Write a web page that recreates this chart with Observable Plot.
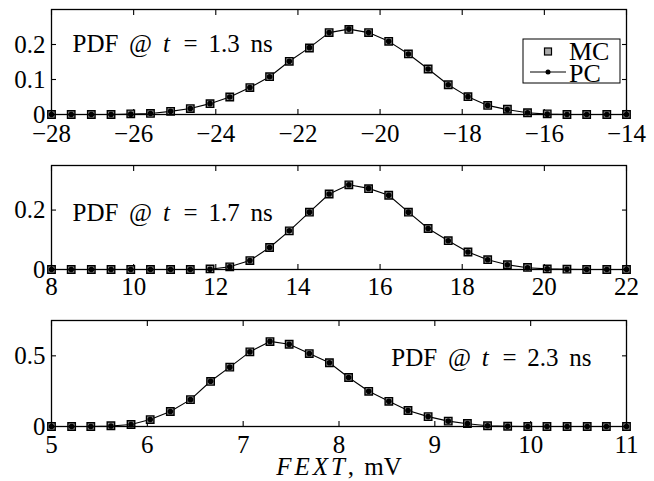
<!DOCTYPE html>
<html><head><meta charset="utf-8">
<script src="https://cdn.jsdelivr.net/npm/d3@7"></script>
<script src="https://cdn.jsdelivr.net/npm/@observablehq/plot@0.6"></script>
<style>
body{margin:0;background:#fff;}
#chart svg{display:block;}
</style></head><body><div id="chart"></div>
<script>
// ---- data ----
const x1 = [-28,-27.52,-27.03,-26.55,-26.07,-25.59,-25.10,-24.62,-24.14,-23.66,-23.17,-22.69,-22.21,-21.72,-21.24,-20.76,-20.28,-19.79,-19.31,-18.83,-18.34,-17.86,-17.38,-16.90,-16.41,-15.93,-15.45,-14.97,-14.48,-14];
const mc1 = [0,0,0,0,0.002,0.003,0.009,0.017,0.031,0.050,0.077,0.108,0.152,0.190,0.234,0.243,0.234,0.209,0.173,0.130,0.085,0.051,0.026,0.015,0.005,0.002,0,0,0,0];
const pc1 = [0,0,0,0,0.001,0.003,0.009,0.017,0.031,0.050,0.077,0.108,0.152,0.191,0.234,0.244,0.234,0.209,0.173,0.130,0.085,0.051,0.026,0.014,0.005,0.001,0,0,0,0];

const x2 = [8,8.48,8.97,9.45,9.93,10.41,10.90,11.38,11.86,12.34,12.83,13.31,13.79,14.28,14.76,15.24,15.72,16.21,16.69,17.17,17.66,18.14,18.62,19.10,19.59,20.07,20.55,21.03,21.52,22];
const mc2 = [0,0,0,0,0,0,0,0,0.002,0.009,0.030,0.074,0.130,0.193,0.254,0.285,0.272,0.250,0.193,0.138,0.097,0.059,0.033,0.016,0.007,0.002,0.001,0,0,0];
const pc2 = [0,0,0,0,0,0,0,0,0.001,0.009,0.030,0.074,0.130,0.193,0.254,0.285,0.273,0.250,0.193,0.138,0.097,0.059,0.033,0.016,0.006,0.002,0.001,0,0,0];

const x3 = [5,5.21,5.41,5.62,5.83,6.03,6.24,6.45,6.66,6.86,7.07,7.28,7.48,7.69,7.90,8.10,8.31,8.52,8.72,8.93,9.14,9.34,9.55,9.76,9.97,10.17,10.38,10.59,10.79,11];
const mc3 = [0,0,0,0.005,0.014,0.049,0.106,0.190,0.319,0.420,0.528,0.601,0.582,0.516,0.451,0.347,0.249,0.178,0.113,0.070,0.038,0.021,0.005,0.002,0,0,0,0,0,0];
const pc3 = [0,0,0,0.004,0.014,0.049,0.106,0.190,0.320,0.420,0.528,0.602,0.582,0.516,0.451,0.347,0.249,0.178,0.113,0.070,0.038,0.020,0.005,0.002,0,0,0,0,0,0];

const xTicks1 = [-28,-26,-24,-22,-20,-18,-16,-14];
const xTicks2 = [8,10,12,14,16,18,20,22];
const xTicks3 = [5,6,7,8,9,10,11];
const yTicks1 = [0,0.1,0.2];
const yTicks2 = [0,0.2];
const yTicks3 = [0,0.5];
const notes = [["PDF @ ","t"," = 1.3 ns"],["PDF @ ","t"," = 1.7 ns"],["PDF @ ","t"," = 2.3 ns"]];
const seriesNames = ["MC","PC"];
const xLabel = ["FEXT", ", mV"];

const FONT = "'Liberation Serif', 'Times New Roman', serif";
const svgns = "http://www.w3.org/2000/svg";

function panel(o) {
  const mcData = o.x.map((v,i)=>({x:v, y:o.mc[i]}));
  const pcData = o.x.map((v,i)=>({x:v, y:o.pc[i]}));
  const noteStr = o.note.join("");
  const labelStr = o.label ? o.label.join("") : null;
  const marks = [
    Plot.axisX(o.xTicks, {anchor:"bottom", tickSize:-5, tickPadding:o.xPad, strokeWidth:1.1}),
    Plot.axisX(o.xTicks, {anchor:"top", tickSize:-5, fill:"none", strokeWidth:1.1}),
    Plot.axisY(o.yTicks, {anchor:"left", tickSize:-5, tickPadding:11, tickFormat:d=>String(d), strokeWidth:1.1}),
    Plot.axisY(o.yTicks, {anchor:"right", tickSize:-5, fill:"none", strokeWidth:1.1}),
    Plot.line(pcData, {x:"x", y:"y", stroke:"black", strokeWidth:1.1}),
    Plot.dot(mcData, {x:"x", y:"y", symbol:"square", r:4.2, fill:"#9a9a9a", stroke:"black", strokeWidth:1.4}),
    Plot.dot(pcData, {x:"x", y:"y", r:2.8, fill:"black", stroke:"none"}),
    Plot.frame({stroke:"black", strokeWidth:1.3}),
    Plot.text([noteStr], {frameAnchor:o.noteAnchor, dx:o.noteDx, dy:o.noteDy, textAnchor:o.noteAlign, lineAnchor:"middle", fontSize:25})
  ];
  if (labelStr) marks.push(Plot.text([labelStr], {frameAnchor:"bottom", dy:40, lineAnchor:"middle", fontSize:25}));
  const svg = Plot.plot({
    width: 654, height: o.height,
    marginLeft: 51, marginRight: 28, marginTop: o.marginTop, marginBottom: o.marginBottom,
    style: {fontFamily: FONT, fontSize: "25px", background: "white", color: "black"},
    x: {domain: o.xDomain, label: null},
    y: {domain: o.yDomain, label: null},
    marks
  });
  const texts = Array.from(svg.querySelectorAll("text"));
  rich(texts.find(t => t.textContent === noteStr), [[o.note[0],false],[o.note[1],true],[o.note[2],false]], 4.5);
  if (labelStr) rich(texts.find(t => t.textContent === labelStr), [[o.label[0],true],[o.label[1],false]], 4);
  return svg;
}
function rich(el, parts, wordSpacing) {
  if (!el) return;
  el.textContent = "";
  el.setAttribute("style", `white-space:pre;word-spacing:${wordSpacing}px`);
  for (const [s, it] of parts) {
    const t = document.createElementNS(svgns, "tspan");
    t.textContent = s;
    if (it) { t.setAttribute("font-style", "italic"); t.setAttribute("letter-spacing", "3"); }
    el.appendChild(t);
  }
}

const chart = document.getElementById("chart");
const s1 = panel({x:x1, mc:mc1, pc:pc1, xDomain:[-28,-14], xTicks:xTicks1, yDomain:[0,0.3], yTicks:yTicks1,
  height:155, marginTop:9, marginBottom:41, xPad:15, note:notes[0], noteAnchor:"top-left", noteDx:21, noteDy:34, noteAlign:"start"});
const s2 = panel({x:x2, mc:mc2, pc:pc2, xDomain:[8,22], xTicks:xTicks2, yDomain:[0,0.35], yTicks:yTicks2,
  height:155, marginTop:10, marginBottom:41, xPad:13, note:notes[1], noteAnchor:"top-left", noteDx:21, noteDy:47, noteAlign:"start"});
const s3 = panel({x:x3, mc:mc3, pc:pc3, xDomain:[5,11], xTicks:xTicks3, yDomain:[0,0.75], yTicks:yTicks3,
  height:171, marginTop:10, marginBottom:55, xPad:14, note:notes[2], noteAnchor:"top-right", noteDx:-35, noteDy:37, noteAlign:"end", label:xLabel});
chart.append(s1, s2, s3);

// legend inside the first panel
const lg = d3.select(s1).append("g").attr("aria-label","legend").attr("font-family", FONT).attr("font-size", 26).attr("text-anchor","start");
lg.append("rect").attr("x",523).attr("y",39).attr("width",97).attr("height",44).attr("fill","white").attr("stroke","black").attr("stroke-width",1);
lg.append("rect").attr("x",544.5).attr("y",48).attr("width",7).attr("height",7).attr("fill","#aaa").attr("stroke","black").attr("stroke-width",1.2);
lg.append("line").attr("x1",530).attr("x2",566).attr("y1",72).attr("y2",72).attr("stroke","black").attr("stroke-width",1);
lg.append("circle").attr("cx",548).attr("cy",72).attr("r",2.5).attr("fill","black");
lg.append("text").attr("x",569).attr("y",60).text(seriesNames[0]);
lg.append("text").attr("x",569).attr("y",82).text(seriesNames[1]);
</script>
</body></html>
